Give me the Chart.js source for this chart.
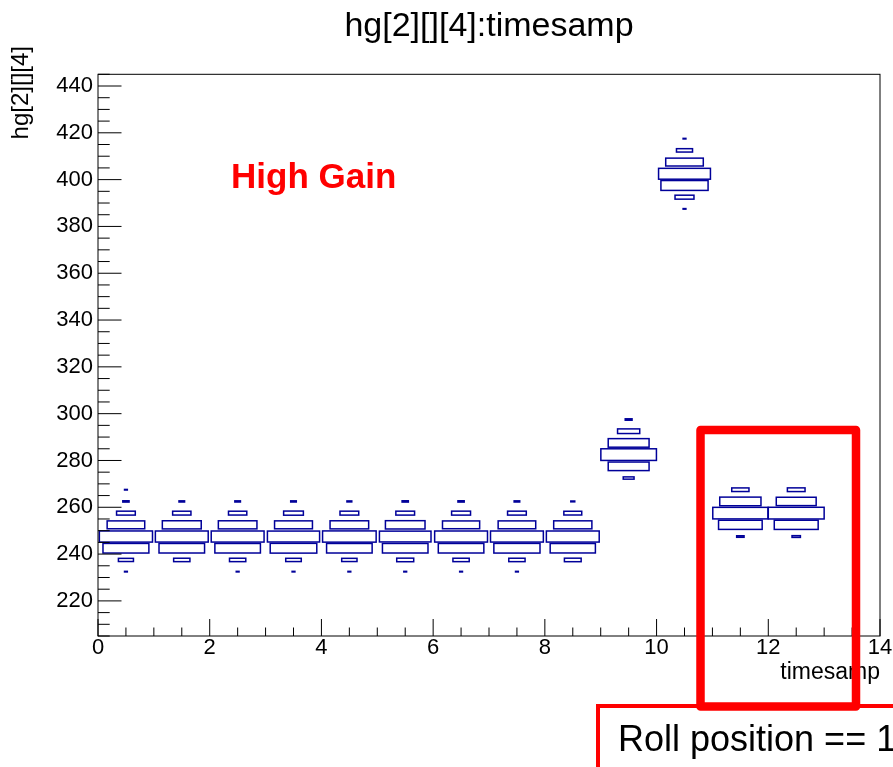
<!DOCTYPE html>
<html>
<head>
<meta charset="utf-8">
<title>hg[2][][4]:timesamp</title>
<script src="https://cdn.jsdelivr.net/npm/chart.js@4.4.1/dist/chart.umd.min.js"></script>
<style>
  html, body { margin: 0; padding: 0; background: #ffffff; }
  #wrap { position: relative; width: 893px; height: 767px; overflow: hidden; }
  canvas { display: block; }
</style>
</head>
<body>
<div id="wrap"><canvas id="c" width="893" height="767"></canvas></div>
<script>
// hg[2][][4] against timesamp, a 2D histogram drawn as boxes whose area follows the bin content.
const timesamp = [0.5, 1.5, 2.5, 3.5, 4.5, 5.5, 6.5, 7.5, 8.5, 9.5, 10.5, 11.5, 12.5];
// centre of the lowest filled hg bin in each timesamp column (hg bins are 5 wide)
const hgFirstBin = [232.5, 237.5, 232.5, 232.5, 232.5, 232.5, 232.5, 232.5, 237.5, 272.5, 387.5, 247.5, 247.5];
// entries per hg bin, from the lowest filled bin upwards
const counts_t0  = [1, 29, 270, 362, 181, 45, 5, 1];
const counts_t1  = [34, 266, 358, 194, 43, 4];
const counts_t2  = [1, 34, 266, 358, 191, 43, 4];
const counts_t3  = [1, 31, 278, 349, 184, 50, 4];
const counts_t4  = [1, 30, 266, 368, 191, 45, 3];
const counts_t5  = [1, 37, 266, 341, 201, 45, 5];
const counts_t6  = [1, 34, 266, 358, 177, 46, 5];
const counts_t7  = [1, 34, 273, 358, 181, 45, 4];
const counts_t8  = [36, 262, 358, 187, 41, 2];
const counts_t9  = [15, 214, 396, 214, 63, 6];
const counts_t10 = [1, 46, 285, 345, 181, 33, 1];
const counts_t11 = [7, 244, 390, 218, 38];
const counts_t12 = [9, 247, 400, 204, 40];
const columnCounts = [counts_t0, counts_t1, counts_t2, counts_t3, counts_t4, counts_t5, counts_t6,
                      counts_t7, counts_t8, counts_t9, counts_t10, counts_t11, counts_t12];
const tsBinWidth = 1;
const hgBinWidth = 5;
const xMajorTicks = [0, 2, 4, 6, 8, 10, 12, 14];
const yMajorTicks = [220, 240, 260, 280, 300, 320, 340, 360, 380, 400, 420, 440];

const cells = [];
timesamp.forEach((t, i) => {
  columnCounts[i].forEach((n, k) => {
    cells.push({ x: t, y: hgFirstBin[i] + k * hgBinWidth, z: n });
  });
});

const FONT = '"Liberation Sans", Arial, Helvetica, sans-serif';
Chart.defaults.font.family = FONT;
Chart.defaults.color = '#000000';

// Each cell: a box centred on the bin, both sides scaled by sqrt(content / max content).
const boxPlugin = {
  id: 'th2Boxes',
  afterDatasetsDraw(chart) {
    const meta = chart.getDatasetMeta(0);
    const ds = chart.data.datasets[0];
    const xs = chart.scales.x, ys = chart.scales.y;
    const zmax = Math.max(...ds.data.map(d => d.z));
    const ctx = chart.ctx;
    ctx.save();
    ctx.strokeStyle = '#000099';
    ctx.lineWidth = 1.5;
    meta.data.forEach((pt, i) => {
      const d = ds.data[i];
      const r = Math.sqrt(d.z / zmax);
      const w = Math.abs(xs.getPixelForValue(d.x + r * tsBinWidth / 2) - xs.getPixelForValue(d.x - r * tsBinWidth / 2));
      const h = Math.abs(ys.getPixelForValue(d.y + r * hgBinWidth / 2) - ys.getPixelForValue(d.y - r * hgBinWidth / 2));
      ctx.strokeRect(pt.x - w / 2, pt.y - h / 2, w, h);
    });
    ctx.restore();
  }
};

// Frame around the plot and inward-pointing tick marks.
const framePlugin = {
  id: 'frameTicks',
  afterDraw(chart) {
    const { ctx, chartArea: a } = chart;
    const xs = chart.scales.x, ys = chart.scales.y;
    ctx.save();
    ctx.strokeStyle = '#000000';
    ctx.lineWidth = 1;
    ctx.strokeRect(a.left, a.top, a.right - a.left, a.bottom - a.top);
    ctx.beginPath();
    xs.ticks.forEach(t => {
      const px = xs.getPixelForValue(t.value);
      const len = xMajorTicks.includes(t.value) ? 17 : 8.5;
      ctx.moveTo(px, a.bottom);
      ctx.lineTo(px, a.bottom - len);
    });
    ys.ticks.forEach(t => {
      const py = ys.getPixelForValue(t.value);
      const len = yMajorTicks.includes(t.value) ? 23.5 : 11.7;
      ctx.moveTo(a.left, py);
      ctx.lineTo(a.left + len, py);
    });
    ctx.stroke();
    ctx.restore();
  }
};

// Text notes and highlight boxes on top of the plot.
const notesPlugin = {
  id: 'notes',
  afterDraw(chart) {
    const ctx = chart.ctx;
    ctx.save();
    // vertical axis title, reading upwards, ending near the top of the pad
    ctx.save();
    ctx.translate(28, 46);
    ctx.rotate(-Math.PI / 2);
    ctx.font = '24px ' + FONT;
    ctx.fillStyle = '#000000';
    ctx.textAlign = 'right';
    ctx.textBaseline = 'alphabetic';
    ctx.fillText('hg[2][][4]', 0, 0);
    ctx.restore();

    ctx.font = 'bold 35px ' + FONT;
    ctx.fillStyle = '#ff0000';
    ctx.textAlign = 'left';
    ctx.textBaseline = 'alphabetic';
    ctx.fillText('High Gain', 231, 188);

    // "Roll position" label box
    ctx.fillStyle = '#ffffff';
    ctx.fillRect(598, 706, 320, 80);
    ctx.strokeStyle = '#ff0000';
    ctx.lineWidth = 4;
    ctx.strokeRect(598, 706, 320, 80);
    ctx.fillStyle = '#000000';
    ctx.font = '36px ' + FONT;
    ctx.fillText('Roll position == 1', 618, 751);

    // highlight around the last two timesamp columns
    ctx.strokeStyle = '#ff0000';
    ctx.lineWidth = 8.5;
    ctx.lineJoin = 'round';
    ctx.strokeRect(700.5, 430, 155.5, 276.5);
    ctx.restore();
  }
};

new Chart(document.getElementById('c'), {
  type: 'scatter',
  data: {
    datasets: [{
      label: 'hg[2][][4]:timesamp',
      data: cells,
      pointRadius: 0,
      pointHoverRadius: 0,
      showLine: false
    }]
  },
  options: {
    responsive: false,
    animation: false,
    devicePixelRatio: 1,
    events: [],
    layout: { padding: { left: 0, right: 13, top: 0, bottom: 0 } },
    plugins: {
      legend: { display: false },
      tooltip: { enabled: false },
      title: {
        display: true,
        text: 'hg[2][][4]:timesamp',
        fullSize: false,
        color: '#000000',
        font: { family: FONT, size: 34, weight: 'normal', lineHeight: 1.2 },
        padding: { top: 6, bottom: 27.5 }
      }
    },
    scales: {
      x: {
        type: 'linear',
        min: 0, max: 14,
        grid: { display: false, drawTicks: false },
        border: { display: false },
        ticks: {
          stepSize: 0.5, autoSkip: false, maxRotation: 0, minRotation: 0,
          padding: -1, color: '#000000',
          font: { size: 22 },
          callback: v => xMajorTicks.includes(v) ? String(v) : ''
        },
        title: {
          display: true, text: 'timesamp', align: 'end', color: '#000000',
          font: { size: 23 }, padding: { top: 0, bottom: 81 }
        },
        afterFit: s => { s.height = 131; s.paddingLeft = 0; s.paddingRight = 0; }
      },
      y: {
        type: 'linear',
        min: 205, max: 445,
        grid: { display: false, drawTicks: false },
        border: { display: false },
        ticks: {
          stepSize: 5, autoSkip: false, padding: 5, color: '#000000',
          font: { size: 22 },
          callback: v => yMajorTicks.includes(v) ? String(v) : ''
        },
        afterFit: s => { s.width = 98; s.paddingTop = 0; s.paddingBottom = 0; }
      }
    }
  },
  plugins: [boxPlugin, framePlugin, notesPlugin]
});
</script>
</body>
</html>
